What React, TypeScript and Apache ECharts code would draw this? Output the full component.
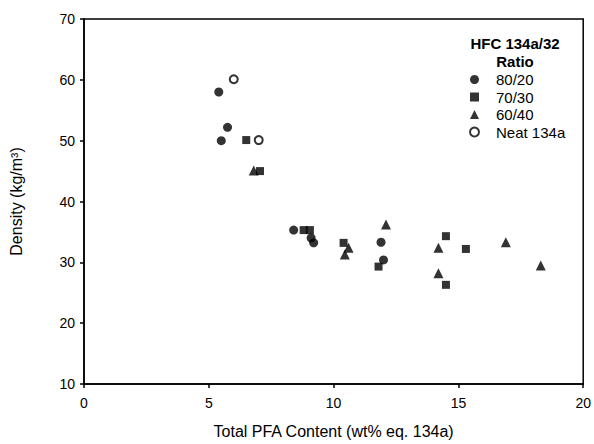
import React, { useEffect, useRef } from "react";
import * as echarts from "echarts";

const SERIES_NAMES = ["80/20", "70/30", "60/40", "Neat 134a"];
const ratio8020: [number, number][] = [
  [5.4, 58], [5.75, 52.2], [5.5, 50], [8.4, 35.3], [9.1, 34], [9.2, 33.2], [11.9, 33.3], [12.0, 30.4],
];
const ratio7030: [number, number][] = [
  [6.5, 50.1], [7.05, 45], [8.8, 35.3], [9.05, 35.3], [10.4, 33.2], [11.8, 29.3], [14.5, 34.3], [15.3, 32.2], [14.5, 26.3],
];
const ratio6040: [number, number][] = [
  [6.8, 45.1], [10.6, 32.4], [10.45, 31.3], [12.1, 36.2], [14.2, 32.4], [14.2, 28.2], [16.9, 33.3], [18.3, 29.5],
];
const neat134a: [number, number][] = [
  [6.0, 60.1], [7.0, 50.1],
];
const X_TICKS = [0, 5, 10, 15, 20];
const Y_TICKS = [10, 20, 30, 40, 50, 60, 70];

const FONT = "Liberation Sans, Arial, sans-serif";

export default function App() {
  const ref = useRef<HTMLDivElement>(null);
  useEffect(() => {
    if (!ref.current) return;
    const chart = echarts.init(ref.current, null, { renderer: "svg" });
    const symbols = ["circle", "rect", "triangle", "circle"];
    const sizes = [9, 8, 10, 8];
    const datas = [ratio8020, ratio7030, ratio6040, neat134a];
    const styles = [
      { color: "#000" },
      { color: "#000" },
      { color: "#000" },
      { color: "#fff", borderColor: "#000", borderWidth: 2 },
    ];
    chart.setOption({
      animation: false,
      backgroundColor: "#fff",
      textStyle: { fontFamily: FONT },
      title: {
        text: "HFC 134a/32\nRatio",
        left: 510,
        top: 29,
        textAlign: "center",
        textStyle: { fontFamily: FONT, fontSize: 15, fontWeight: "bold", color: "#000", lineHeight: 18 },
      },
      legend: {
        orient: "vertical",
        left: 464,
        top: 66,
        itemGap: 0.5,
        itemWidth: 9,
        itemHeight: 9,
        selectedMode: false,
        data: SERIES_NAMES.map((n, i) => ({
          name: n,
          icon: symbols[i],
          itemStyle: styles[i],
        })),
        textStyle: { fontFamily: FONT, fontSize: 15, color: "#000", lineHeight: 17, padding: [0, 0, 0, 12] },
      },
      grid: {
        left: 84,
        right: 8,
        top: 19,
        bottom: 56,
        show: true,
        borderColor: "#000",
        borderWidth: 1.5,
      },
      xAxis: {
        type: "value",
        min: X_TICKS[0],
        max: X_TICKS[X_TICKS.length - 1],
        interval: 5,
        name: "Total PFA Content (wt% eq. 134a)",
        nameLocation: "middle",
        nameGap: 39,
        nameTextStyle: { fontFamily: FONT, fontSize: 16, color: "#000" },
        axisLine: { lineStyle: { color: "#000", width: 1.5 } },
        axisTick: { inside: false, length: 4, lineStyle: { color: "#000", width: 1.5 } },
        axisLabel: { fontFamily: FONT, fontSize: 14, color: "#000", margin: 12 },
        splitLine: { show: false },
      },
      yAxis: {
        type: "value",
        min: Y_TICKS[0],
        max: Y_TICKS[Y_TICKS.length - 1],
        interval: 10,
        name: "Density (kg/m³)",
        nameLocation: "middle",
        nameGap: 60,
        nameTextStyle: { fontFamily: FONT, fontSize: 16, color: "#000" },
        axisLine: { lineStyle: { color: "#000", width: 1.5 } },
        axisTick: { inside: false, length: 4, lineStyle: { color: "#000", width: 1.5 } },
        axisLabel: { fontFamily: FONT, fontSize: 14, color: "#000", margin: 9 },
        splitLine: { show: false },
      },
      series: SERIES_NAMES.map((n, i) => ({
        name: n,
        type: "scatter",
        symbol: symbols[i],
        symbolSize: sizes[i],
        data: datas[i],
        itemStyle: styles[i],
      })),
    });
    return () => chart.dispose();
  }, []);
  return <div ref={ref} style={{ width: 594, height: 444, position: "absolute", left: 0, top: 0 }} />;
}
